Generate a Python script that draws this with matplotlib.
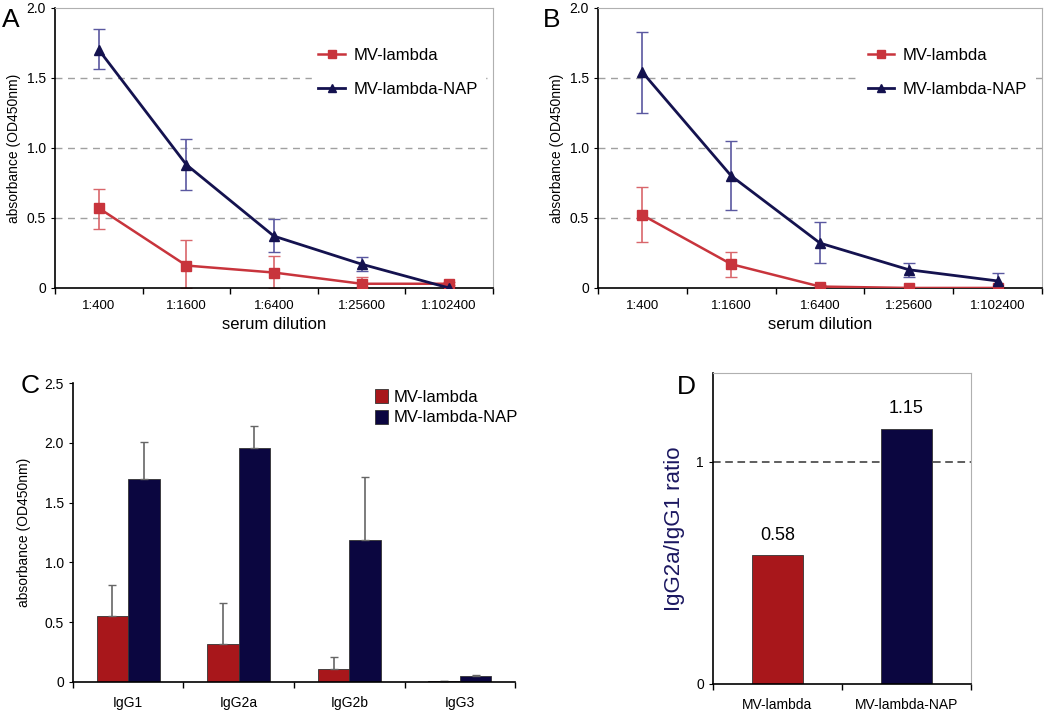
import matplotlib
matplotlib.use("Agg")
import matplotlib.pyplot as plt
import numpy as np

plt.rcParams['font.family'] = ['Liberation Sans', 'DejaVu Sans']

# panel A / B: serum dilution curves
dilutions = ['1:400', '1:1600', '1:6400', '1:25600', '1:102400']

a_mv = [0.57, 0.16, 0.11, 0.03, 0.03]
a_mv_hi = [0.71, 0.34, 0.23, 0.08, 0.04]
a_mv_lo = [0.42, 0.00, 0.00, 0.01, 0.02]
a_nap = [1.70, 0.88, 0.37, 0.17, 0.00]
a_nap_hi = [1.85, 1.06, 0.49, 0.22, 0.01]
a_nap_lo = [1.56, 0.70, 0.26, 0.12, 0.00]

b_mv = [0.52, 0.17, 0.01, 0.00, 0.00]
b_mv_hi = [0.72, 0.26, 0.02, 0.00, 0.00]
b_mv_lo = [0.33, 0.08, 0.00, 0.00, 0.00]
b_nap = [1.54, 0.80, 0.32, 0.13, 0.05]
b_nap_hi = [1.83, 1.05, 0.47, 0.18, 0.11]
b_nap_lo = [1.25, 0.56, 0.18, 0.08, 0.00]

# panel C: isotypes
isotypes = ['IgG1', 'IgG2a', 'IgG2b', 'IgG3']
c_mv = [0.55, 0.32, 0.11, 0.005]
c_mv_err = [0.26, 0.34, 0.10, 0.0]
c_nap = [1.70, 1.96, 1.19, 0.05]
c_nap_err = [0.31, 0.18, 0.52, 0.01]

# panel D: ratio
groups = ['MV-lambda', 'MV-lambda-NAP']
ratios = [0.58, 1.15]

LINE_RED = '#c8343c'
LINE_NAVY = '#14124f'
BAR_RED = '#a8171b'
BAR_NAVY = '#0b0640'
ERR_RED = '#d9666b'
ERR_NAVY = '#5a58a0'

fig = plt.figure(figsize=(10.5, 7.11), dpi=100)


def line_panel(rect, mv, mv_hi, mv_lo, nap, nap_hi, nap_lo, letter, lx):
    ax = fig.add_axes(rect)
    x = np.arange(len(dilutions))
    mv = np.array(mv); nap = np.array(nap)
    ax.errorbar(x, mv, yerr=[mv - np.array(mv_lo), np.array(mv_hi) - mv],
                fmt='none', ecolor=ERR_RED, elinewidth=1.2, capsize=4, zorder=2)
    ax.errorbar(x, nap, yerr=[nap - np.array(nap_lo), np.array(nap_hi) - nap],
                fmt='none', ecolor=ERR_NAVY, elinewidth=1.2, capsize=4, zorder=2)
    ax.plot(x, mv, color=LINE_RED, marker='s', markersize=7, lw=1.8,
            label='MV-lambda', zorder=3)
    ax.plot(x, nap, color=LINE_NAVY, marker='^', markersize=7, lw=2,
            label='MV-lambda-NAP', zorder=3)
    for g in [0.5, 1.0, 1.5]:
        ax.axhline(g, color='#a0a0a0', ls=(0, (5, 4)), lw=1, zorder=1)
    ax.set_xlim(-0.5, 4.5)
    ax.set_ylim(0, 2.0)
    ax.set_yticks([0, 0.5, 1.0, 1.5, 2.0])
    ax.set_yticklabels(['0', '0.5', '1.0', '1.5', '2.0'], fontsize=10)
    ax.set_xticks(np.arange(-0.5, 5, 1))
    ax.set_xticklabels([])
    ax.set_xticks(x, minor=True)
    ax.set_xticklabels(dilutions, minor=True, fontsize=9.5)
    ax.tick_params(axis='x', which='minor', length=0, pad=9)
    ax.tick_params(axis='x', which='major', length=4, width=1)
    ax.tick_params(axis='y', length=3)
    ax.set_xlabel('serum dilution', fontsize=12, labelpad=3)
    ax.set_ylabel('absorbance (OD450nm)', fontsize=10)
    for s in ['top', 'right']:
        ax.spines[s].set_color('#b0b0b0')
    ax.spines['left'].set_linewidth(1.2)
    ax.spines['bottom'].set_linewidth(1.2)
    leg = ax.legend(loc='upper right', bbox_to_anchor=(1.0, 0.91), fontsize=12,
                    frameon=True, framealpha=1, edgecolor='white',
                    handlelength=1.6, labelspacing=1.15, markerscale=0.75,
                    handletextpad=0.5)
    leg.set_zorder(4)
    fig.text(lx, 0.972, letter, fontsize=19, va='center')
    return ax


line_panel([0.0524, 0.595, 0.417, 0.394], a_mv, a_mv_hi, a_mv_lo,
           a_nap, a_nap_hi, a_nap_lo, 'A', 0.002)
line_panel([0.5695, 0.595, 0.423, 0.394], b_mv, b_mv_hi, b_mv_lo,
           b_nap, b_nap_hi, b_nap_lo, 'B', 0.517)

# panel C
axc = fig.add_axes([0.0695, 0.0408, 0.421, 0.4205])
xc = np.arange(len(isotypes))
w = 0.285
axc.bar(xc - w / 2, c_mv, w, color=BAR_RED, edgecolor='#333333', lw=0.6,
        yerr=[np.zeros(4), c_mv_err], ecolor='#666666', capsize=3,
        error_kw={'elinewidth': 1.2}, label='MV-lambda')
axc.bar(xc + w / 2, c_nap, w, color=BAR_NAVY, edgecolor='#333333', lw=0.6,
        yerr=[np.zeros(4), c_nap_err], ecolor='#666666', capsize=3,
        error_kw={'elinewidth': 1.2}, label='MV-lambda-NAP')
axc.set_xlim(-0.5, 3.5)
axc.set_ylim(0, 2.5)
axc.set_yticks([0, 0.5, 1.0, 1.5, 2.0, 2.5])
axc.set_yticklabels(['0', '0.5', '1.0', '1.5', '2.0', '2.5'], fontsize=10)
axc.set_xticks(np.arange(-0.5, 4, 1))
axc.set_xticklabels([])
axc.set_xticks(xc, minor=True)
axc.set_xticklabels(isotypes, minor=True, fontsize=10)
axc.tick_params(axis='x', which='minor', length=0, pad=10)
axc.tick_params(axis='x', which='major', length=4, width=1)
axc.tick_params(axis='y', length=3)
axc.set_ylabel('absorbance (OD450nm)', fontsize=10, labelpad=10)
axc.spines['top'].set_visible(False)
axc.spines['right'].set_visible(False)
axc.spines['left'].set_linewidth(1.2)
axc.spines['bottom'].set_linewidth(1.2)
axc.legend(loc='upper right', bbox_to_anchor=(1.04, 1.03), fontsize=12,
           frameon=False, handlelength=0.8, handleheight=0.9,
           handletextpad=0.3, labelspacing=0.3)
fig.text(0.02, 0.457, 'C', fontsize=19, va='center')

# panel D
axd = fig.add_axes([0.679, 0.038, 0.2457, 0.4374])
xd = np.arange(len(groups))
axd.bar(xd, ratios, 0.4, color=[BAR_RED, BAR_NAVY], edgecolor='#333333', lw=0.6)
for xi, r in zip(xd, ratios):
    axd.text(xi, r + 0.05, f'{r:.2f}', ha='center', va='bottom', fontsize=13)
axd.axhline(1.0, color='#333333', ls=(0, (5, 3)), lw=1.1, zorder=0)
axd.set_xlim(-0.5, 1.5)
axd.set_ylim(0, 1.4)
axd.set_yticks([0, 1])
axd.set_yticklabels(['0', '1'], fontsize=10)
axd.set_xticks([-0.5, 0.5, 1.5])
axd.set_xticklabels([])
axd.set_xticks(xd, minor=True)
axd.set_xticklabels(groups, minor=True, fontsize=10)
axd.tick_params(axis='x', which='minor', length=0, pad=10)
axd.tick_params(axis='x', which='major', length=4, width=1)
axd.tick_params(axis='y', length=3)
axd.set_ylabel('IgG2a/IgG1 ratio', fontsize=16, color='#1b1760', labelpad=8)
for s in ['top', 'right']:
    axd.spines[s].set_color('#b0b0b0')
axd.spines['left'].set_linewidth(1.2)
axd.spines['bottom'].set_linewidth(1.2)
fig.text(0.645, 0.455, 'D', fontsize=19, va='center')

fig.savefig('out.png', dpi=100)
